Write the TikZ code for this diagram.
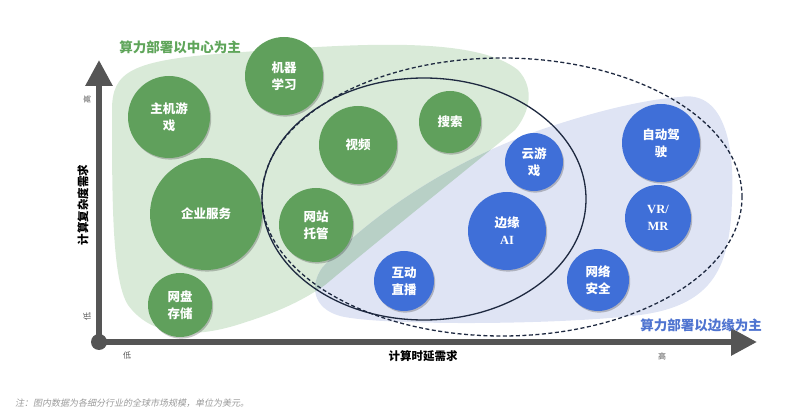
\documentclass[tikz,border=0pt]{standalone}
\usepackage{fontspec}
\setmainfont{Noto Sans CJK SC}
\newfontfamily\latfont{Liberation Serif}
\newfontfamily\notefont{Noto Sans CJK SC}[FakeSlant=0.2]
\usetikzlibrary{shapes.geometric,arrows.meta,shadows}
\definecolor{gcirc}{HTML}{60A05C}
\definecolor{bcirc}{HTML}{3F6FD8}
\definecolor{gzone}{HTML}{D9EAD8}
\definecolor{bzone}{HTML}{DFE4F4}
\definecolor{ozone}{HTML}{B8D0C6}
\definecolor{axisgray}{HTML}{555555}
\definecolor{ringcol}{HTML}{1E2940}
\definecolor{gtitle}{HTML}{5FA55A}
\definecolor{btitle}{HTML}{4F74D0}
\definecolor{notegray}{HTML}{9A9A9A}
\def\greenzone{(112,110) .. controls (112,72) and (130,60) .. (230,53) .. controls (360,43) and (475,36) .. (518,70) .. controls (535,88) and (530,112) .. (515,130) .. controls (460,175) and (385,235) .. (325,285) .. controls (295,306) and (265,316) .. (240,324) .. controls (190,340) and (150,335) .. (128,305) .. controls (112,280) and (112,200) .. (112,110) -- cycle}
\def\bluezone{(322,268) .. controls (360,225) and (440,165) .. (540,130) .. controls (590,113) and (640,100) .. (680,97) .. controls (722,90) and (735,140) .. (732,200) .. controls (730,265) and (715,305) .. (640,315) .. controls (560,325) and (380,326) .. (340,316) .. controls (312,308) and (310,285) .. (322,268) -- cycle}
\begin{document}
\begin{tikzpicture}[x=1pt,y=-1pt,
  bubble/.style={circle, inner sep=0pt, text=white, align=center,
    font=\fontsize{12.5}{17}\selectfont\bfseries,
    drop shadow={shadow xshift=1.2pt, shadow yshift=-1.6pt, opacity=0.22, fill=black}},
  gb/.style={bubble, fill=gcirc},
  bb/.style={bubble, fill=bcirc},
  ring/.style={ellipse, draw=ringcol, inner sep=0pt},
  axisline/.style={draw=axisgray, line width=6pt, -{Triangle[length=26pt,width=26pt]}},
  tick/.style={text=axisgray, font=\fontsize{8}{8}\selectfont, inner sep=0pt},
  axlabel/.style={text=black, font=\fontsize{11.5}{12}\selectfont\bfseries, inner sep=0pt},
  zonetitle/.style={font=\fontsize{13.5}{14}\selectfont\bfseries, inner sep=0pt}
]
\useasboundingbox (0,0) rectangle (800,419);
% zones
\fill[gzone] \greenzone;
\fill[bzone] \bluezone;
\begin{scope}
  \clip \greenzone;
  \fill[ozone] \bluezone;
\end{scope}
% rings
\node[ring, dashed, dash pattern=on 4pt off 2.5pt, line width=1.3pt, minimum width=480pt, minimum height=278pt] (edgering) at (502,197) {};
\node[ring, line width=1.3pt, minimum width=324pt, minimum height=242pt] (corering) at (424,199) {};
% axes
\coordinate (O) at (99,342);
\coordinate (ytip) at (99,60);
\coordinate (xtip) at (757,342);
\draw[axisline] (O) -- (ytip);
\draw[axisline] (O) -- (xtip);
\fill[axisgray] (O) circle[radius=8pt];
% bubbles
\node[gb, minimum size=78pt] (ml) at (284,76) {机器\\学习};
\node[gb, minimum size=82pt] (console) at (169,117) {主机游\\戏};
\node[gb, minimum size=112pt] (enterprise) at (206,214) {企业服务};
\node[gb, minimum size=64pt] (disk) at (180,305) {网盘\\存储};
\node[gb, minimum size=78pt] (video) at (358,145) {视频};
\node[gb, minimum size=62pt] (search) at (450,122) {搜索};
\node[gb, minimum size=74pt] (host) at (316,225) {网站\\托管};
\node[bb, minimum size=58pt] (cloudgame) at (534,162) {云游\\戏};
\node[bb, minimum size=78pt] (edgeai) at (507,231) {边缘\\{\latfont\bfseries AI}};
\node[bb, minimum size=60pt] (live) at (404,281) {互动\\直播};
\node[bb, minimum size=78pt] (drive) at (661,143) {自动驾\\驶};
\node[bb, minimum size=66pt] (vrmr) at (658,218) {\latfont\bfseries VR/\\\latfont\bfseries MR};
\node[bb, minimum size=62pt] (security) at (598,280) {网络\\安全};
% titles
\node[zonetitle, text=gtitle] (centertitle) at (180,47) {算力部署以中心为主};
\node[zonetitle, text=btitle] (edgetitle) at (701,325) {算力部署以边缘为主};
% axis labels
\node[axlabel, rotate=90] (ylabel) at (83,205) {计算复杂度需求};
\node[axlabel] (xlabel) at (423,356) {计算时延需求};
\node[tick, rotate=90] (yhigh) at (87,100) {高};
\node[tick, rotate=90] (ylow) at (87,316) {低};
\node[tick] (xlow) at (127,355) {低};
\node[tick] (xhigh) at (662,356) {高};
% note
\node[text=notegray, font=\notefont\fontsize{9}{9}\selectfont, anchor=west, inner sep=0pt] (note) at (15,403) {注：图内数据为各细分行业的全球市场规模，单位为美元。};
\end{tikzpicture}
\end{document}
